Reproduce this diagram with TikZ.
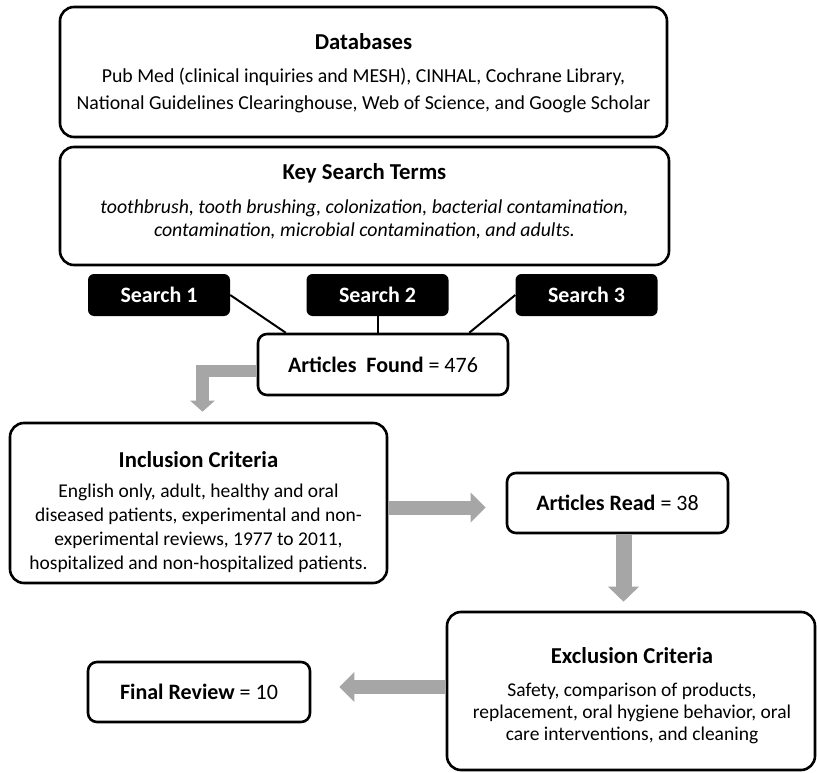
\documentclass[tikz,border=0pt]{standalone}
\usepackage{fontspec}
\setmainfont{Carlito}
\usetikzlibrary{arrows.meta, positioning}

\begin{document}
\begin{tikzpicture}[
  x=1pt, y=-1pt,
  every node/.style={inner sep=0pt},
  box/.style={draw, line width=2.6pt, rounded corners=14pt, fill=white},
  tag/.style={fill=black, rounded corners=6pt, text=white, minimum width=142pt, minimum height=42pt,
    font=\fontsize{22}{26}\selectfont\bfseries},
  head/.style={anchor=base, font=\fontsize{22.75}{27}\selectfont\bfseries},
  body/.style={anchor=base, align=center},
  link/.style={line width=2pt},
  flow/.style={draw=black!35, line width=14pt, -{Triangle[width=29pt,length=15pt]}}
]
\useasboundingbox (0,0) rectangle (817,773);

% boxes
\node[box, minimum width=607pt, minimum height=130pt] (db) at (363.5,72) {};
\node[box, minimum width=609pt, minimum height=118pt] (kst) at (364.5,206) {};
\node[tag] (s1) at (159,295) {Search 1};
\node[tag] (s2) at (377.5,295) {Search 2};
\node[tag] (s3) at (586.5,295) {Search 3};
\node[box, rounded corners=9pt, minimum width=250pt, minimum height=61pt,
  font=\fontsize{22}{26}\selectfont] (found) at (383,364.5) {\textbf{Articles\ \ Found} = 476};
\node[box, minimum width=377pt, minimum height=160pt] (incl) at (198.5,503) {};
\node[box, rounded corners=9pt, minimum width=221pt, minimum height=60pt,
  font=\fontsize{22}{26}\selectfont] (read) at (617.5,503) {\textbf{Articles Read} = 38};
\node[box, minimum width=368pt, minimum height=158pt] (excl) at (631,691) {};
\node[box, rounded corners=9pt, minimum width=222pt, minimum height=60pt,
  font=\fontsize{22}{26}\selectfont] (final) at (199,692) {\textbf{Final Review} = 10};

% texts (body nodes sit on the baseline of their last line)
\node[head] (dbhead) at (363.5,50) {Databases};
\node[body, font=\fontsize{19.8}{27}\selectfont] (dbtext) at (363.5,110)
  {Pub Med (clinical inquiries and MESH), CINHAL, Cochrane Library,\\
   National Guidelines Clearinghouse, Web of Science, and Google Scholar};
\node[head] (ksthead) at (364.5,179) {Key Search Terms};
\node[body, font=\fontsize{19.8}{23}\selectfont\itshape] (ksttext) at (364.5,236)
  {toothbrush, tooth brushing, colonization, bacterial contamination,\\
   contamination, microbial contamination, and adults.};
\node[head] (inclhead) at (198.5,467) {Inclusion Criteria};
\node[body, font=\fontsize{19.5}{24}\selectfont] (incltext) at (198.5,569)
  {English only, adult, healthy and oral\\
   diseased patients, experimental and non-\\
   experimental reviews, 1977 to 2011,\\
   hospitalized and non-hospitalized patients.};
\node[head] (exclhead) at (632,663) {Exclusion Criteria};
\node[body, font=\fontsize{19.5}{22}\selectfont] (excltext) at (632,740)
  {Safety, comparison of products,\\
   replacement, oral hygiene behavior, oral\\
   care interventions, and cleaning};

% search links
\draw[link] (s1.east) -- ([xshift=29pt]found.north west);
\draw[link] (s2.south) -- (s2.south |- found.north);
\draw[link] (s3.west) -- ([xshift=-40pt]found.north east);

% grey flow arrows
\draw[flow, line width=12.5pt, -{Triangle[width=24pt,length=11pt]}, shorten >=10pt]
  ([yshift=-6.5pt]found.west) -| ([xshift=4pt]incl.north);
\draw[flow, shorten >=20pt] ([yshift=-4.5pt]incl.east) -- ([yshift=-4.5pt]read.west);
\draw[flow, line width=16pt, -{Triangle[width=30pt,length=15pt]}, shorten >=9pt]
  ([xshift=6pt]read.south) -- ([xshift=6pt]read.south |- excl.north);
\draw[flow, shorten >=28pt] ([yshift=4pt]excl.west) -- ([yshift=4pt]excl.west -| final.east);
\end{tikzpicture}
\end{document}
